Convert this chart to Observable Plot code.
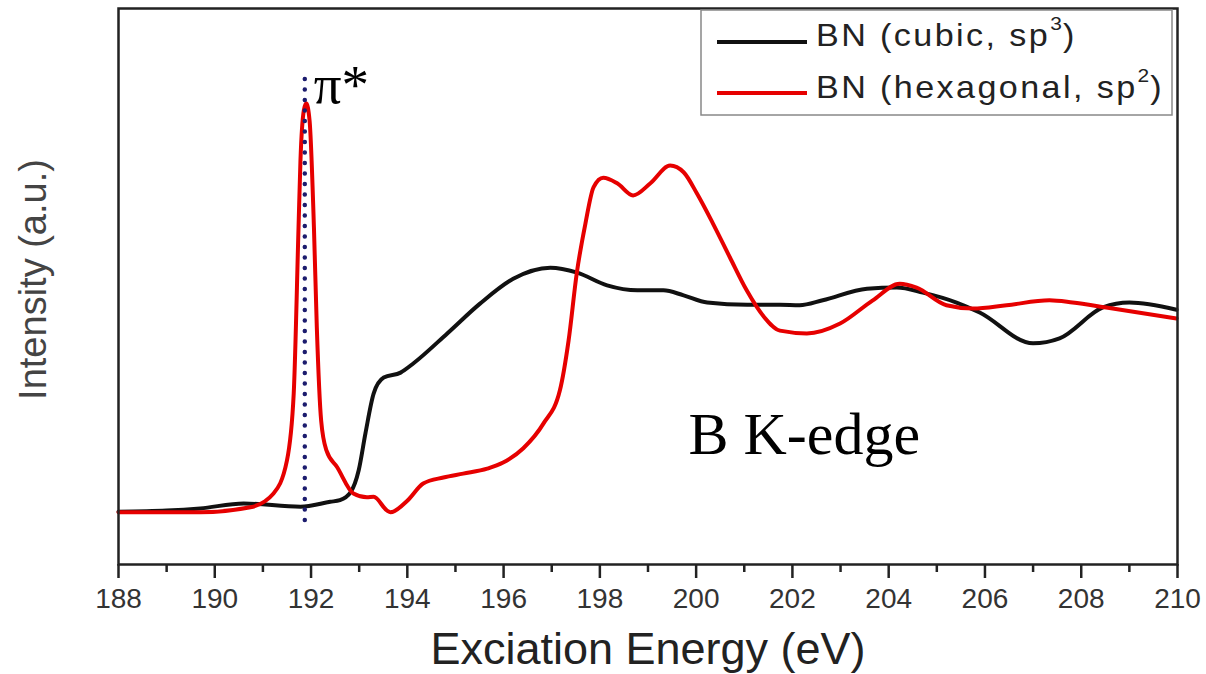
<!DOCTYPE html>
<html>
<head>
<meta charset="utf-8">
<script src="https://cdn.jsdelivr.net/npm/d3@7"></script>
<script src="https://cdn.jsdelivr.net/npm/@observablehq/plot@0.6"></script>
<style>
  html, body { margin: 0; padding: 0; background: #fff; }
</style>
</head>
<body>
<script>
// ---- data ----
const cubicEnergy = [188.0, 189.0, 189.7, 190.6, 191.78, 192.4, 192.6, 192.82, 192.99, 193.13, 193.30, 193.51, 193.86, 194.13, 194.83, 195.51, 196.2, 196.97, 197.53, 198.15, 198.78, 199.32, 199.74, 200.23, 201.06, 201.74, 202.15, 202.63, 203.55, 204.17, 204.71, 205.41, 205.89, 207.0, 207.55, 208.45, 209.0, 209.98];
const cubicIntensity = [9.2, 9.4, 9.8, 10.7, 10.1, 11.0, 11.3, 12.7, 16.7, 23.4, 30.6, 33.5, 34.4, 36.1, 41.5, 46.9, 51.4, 53.4, 52.5, 50.2, 49.3, 49.3, 48.4, 47.1, 46.7, 46.7, 46.6, 47.5, 49.6, 49.8, 48.9, 47.1, 45.3, 39.7, 40.6, 46.2, 47.1, 45.8];

const hexEnergy = [188.0, 189.7, 190.74, 191.22, 191.5, 191.64, 191.74, 191.78, 191.85, 191.9, 191.97, 192.06, 192.12, 192.21, 192.32, 192.54, 192.88, 193.16, 193.3, 193.58, 193.65, 194.0, 194.33, 194.75, 195.16, 195.66, 195.99, 196.41, 196.83, 197.17, 197.35, 197.52, 197.7, 197.87, 198.07, 198.36, 198.69, 199.05, 199.46, 199.74, 200.02, 200.35, 200.7, 201.05, 201.4, 201.74, 202.3, 202.99, 203.67, 204.23, 204.58, 205.2, 205.75, 206.45, 207.34, 207.82, 208.52, 209.98];
const hexIntensity = [9.1, 9.1, 10.0, 12.5, 18.5, 30.6, 60.7, 72.8, 81.9, 83.2, 80.0, 60.7, 42.6, 25.7, 20.3, 17.3, 12.5, 11.8, 11.9, 9.4, 9.1, 11.2, 14.3, 15.4, 16.1, 17.0, 18.1, 20.7, 25.2, 31.2, 40.2, 52.4, 61.4, 68.0, 69.7, 68.7, 66.5, 68.7, 71.9, 70.7, 66.8, 61.4, 55.3, 49.3, 44.6, 42.0, 41.5, 43.3, 47.5, 50.5, 49.8, 46.6, 46.0, 46.6, 47.5, 47.1, 46.2, 44.2];

const seriesNames = ["BN (cubic, sp", "BN (hexagonal, sp"];
const seriesSup = ["3", "2"];
const seriesColors = ["#111111", "#e60000"];

const majorTicks = [188, 190, 192, 194, 196, 198, 200, 202, 204, 206, 208, 210];
const minorTicks = [189, 191, 193, 195, 197, 199, 201, 203, 205, 207, 209];

const piStarEnergy = [191.87];
const piStarRange = [7.6, 88.6];
const piLabel = [{x: 191.87, y: 86.4, text: "π*"}];
const edgeLabel = [{x: 199.84, y: 23.2, text: "B K-edge"}];

const xTitle = "Exciation Energy (eV)";
const yTitle = "Intensity (a.u.)";

// ---- build tables ----
const cubic = cubicEnergy.map((e, i) => ({e, v: cubicIntensity[i]}));
const hex = hexEnergy.map((e, i) => ({e, v: hexIntensity[i]}));

const chart = Plot.plot({
  width: 1206,
  height: 674,
  marginLeft: 118,
  marginRight: 29,
  marginTop: 8,
  marginBottom: 110,
  style: {fontFamily: "'Liberation Sans', Arial, sans-serif", background: "#fff"},
  x: {domain: [188, 210]},
  y: {domain: [-0.36, 100.36], axis: null},
  marks: [
    Plot.axisX({ticks: minorTicks, tickSize: 8, tickFormat: () => "", label: null, strokeWidth: 2.5, stroke: "#222"}),
    Plot.axisX({ticks: majorTicks, tickSize: 14, tickPadding: 10, tickFormat: d3.format("d"), fontSize: 28, label: null, strokeWidth: 2.5, stroke: "#222", fill: "#333"}),
    Plot.line(cubic, {x: "e", y: "v", stroke: seriesColors[0], strokeWidth: 4, curve: "monotone-x"}),
    Plot.line(hex, {x: "e", y: "v", stroke: seriesColors[1], strokeWidth: 4, curve: "monotone-x"}),
    Plot.ruleX(piStarEnergy, {x: d => d, y1: piStarRange[0], y2: piStarRange[1], stroke: "#1c1c6e", strokeWidth: 4.5, strokeDasharray: "0 10.5", strokeLinecap: "round"}),
    Plot.text(piLabel, {x: "x", y: "y", text: "text", fontFamily: "'Liberation Serif', 'Times New Roman', serif", fontSize: 55, textAnchor: "start", dx: 9, fill: "#000"}),
    Plot.text(edgeLabel, {x: "x", y: "y", text: "text", fontFamily: "'Liberation Serif', 'Times New Roman', serif", fontSize: 60, textAnchor: "start", fill: "#000"}),
    Plot.text([yTitle], {frameAnchor: "left", textAnchor: "middle", lineAnchor: "middle", rotate: -90, dx: -85, dy: -7, fontSize: 38, fill: "#444"}),
    Plot.text([xTitle], {frameAnchor: "bottom", textAnchor: "middle", lineAnchor: "middle", dy: 85, fontSize: 45, fill: "#222"}),
    Plot.frame({stroke: "#222", strokeWidth: 2.5})
  ]
});

// ---- legend (inside the plot frame, top right) ----
const svg = d3.select(chart);
const lg = svg.append("g").attr("font-family", "'Liberation Sans', Arial, sans-serif").attr("text-anchor", "start");
lg.append("rect").attr("x", 701).attr("y", 10).attr("width", 471).attr("height", 105)
  .attr("fill", "#fff").attr("stroke", "#888").attr("stroke-width", 1.5);
const rowLine = [42, 93];
const rowBase = [46, 97.5];
seriesNames.forEach((name, i) => {
  lg.append("line").attr("x1", 717).attr("x2", 807).attr("y1", rowLine[i]).attr("y2", rowLine[i])
    .attr("stroke", seriesColors[i]).attr("stroke-width", 4);
  const t = lg.append("text").attr("transform", `translate(816,${rowBase[i]}) scale(1.1,1)`)
    .attr("font-size", 31).attr("letter-spacing", 2.2).attr("fill", "#222").attr("text-anchor", "start");
  t.append("tspan").text(name);
  t.append("tspan").attr("font-size", 19).attr("dy", -16).attr("letter-spacing", 1).text(seriesSup[i]);
  t.append("tspan").attr("dy", 16).text(")");
});

document.body.appendChild(chart);
</script>
</body>
</html>
